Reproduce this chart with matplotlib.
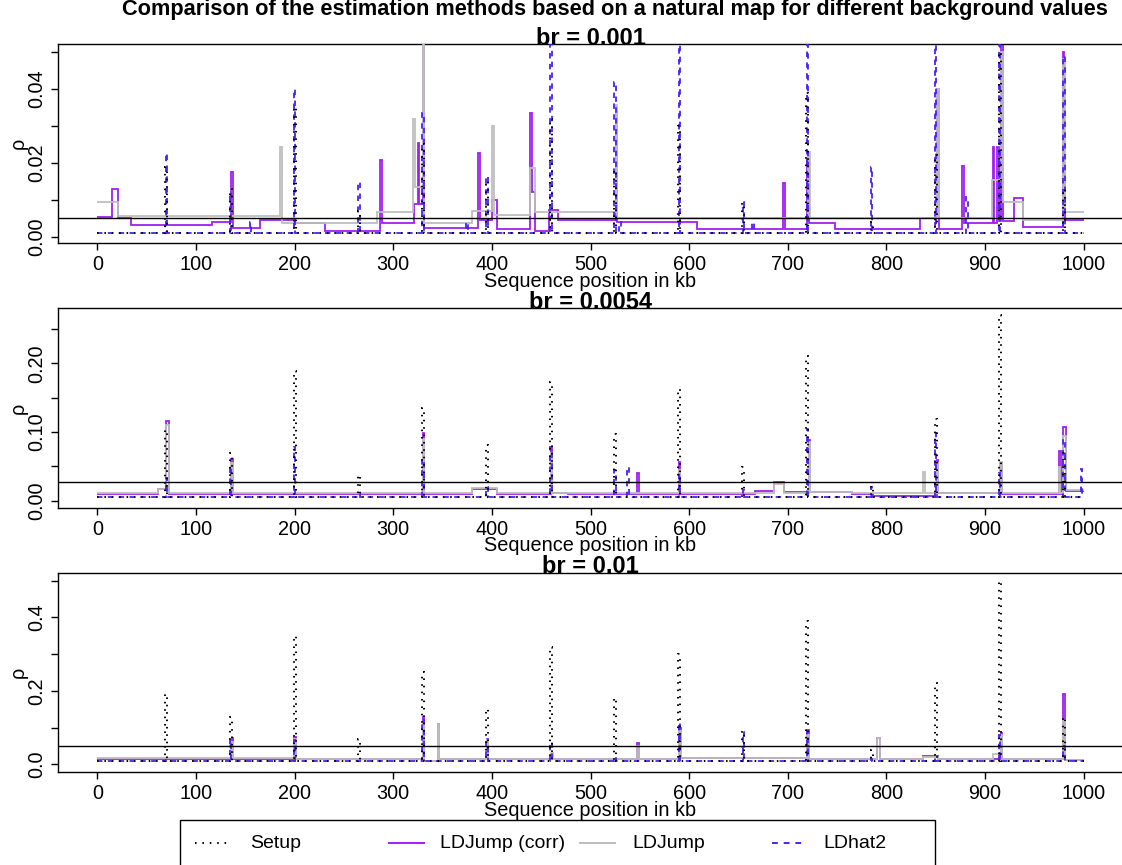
import matplotlib
matplotlib.use("Agg")
import matplotlib.pyplot as plt
from matplotlib.lines import Line2D
from matplotlib.patches import Rectangle

plt.rcParams['font.family'] = ['Liberation Sans', 'DejaVu Sans']

W, H = 1122, 865

# hotspot positions of the simulated map (kb)
hotspots = [70, 135, 200, 265, 330, 395, 460, 525, 590, 655, 720, 785, 850, 915, 980]

panel_titles = ["br = 0.001", "br = 0.0054", "br = 0.01"]
backgrounds = [0.001, 0.0054, 0.01]
thresholds = [0.005, 0.0277, 0.05]

# Setup (true map) hotspot heights
setup_1 = [0.019, 0.013, 0.035, 0.007, 0.025, 0.015, 0.032, 0.018, 0.030, 0.009, 0.039, 0.004, 0.022, 0.050, 0.013]
setup_2 = [0.103, 0.070, 0.189, 0.038, 0.135, 0.081, 0.173, 0.097, 0.162, 0.049, 0.211, 0.022, 0.119, 0.270, 0.070]
setup_3 = [0.19, 0.13, 0.35, 0.07, 0.25, 0.15, 0.32, 0.18, 0.30, 0.09, 0.39, 0.04, 0.22, 0.50, 0.13]

# LDJump (corr): segment starts and values
p1_corr_x = [0, 15.2, 20.9, 34.5, 115.8, 135.7, 137.2, 164.7, 200.3, 230.4, 286.9, 288.4, 320.8, 325.5, 326.5,
             330, 331.5, 386.4, 387.9, 400.4, 405.6, 438.8, 440.3, 444, 458, 467, 525.5, 527, 608.3, 694.8, 697,
             720, 722, 748, 834.5, 851, 853, 877.1, 878.6, 908, 909.5, 912.5, 914, 916.5, 918, 929.5, 939, 979,
             980.5, 981.5]
p1_corr_y = [0.0054, 0.0128, 0.0051, 0.0032, 0.0041, 0.0174, 0.0024, 0.0045, 0.0038, 0.0014, 0.0208, 0.0037, 0.0088,
             0.0253, 0.0088, 0.055, 0.0024, 0.0227, 0.0045, 0.0099, 0.0021, 0.0334, 0.0122, 0.0016, 0.0072, 0.0045,
             0.034, 0.0041, 0.0021, 0.0145, 0.0021, 0.021, 0.0038, 0.0022, 0.0051, 0.040, 0.0021, 0.0192, 0.0037,
             0.0243, 0.0037, 0.0243, 0.0043, 0.055, 0.0043, 0.0106, 0.0025, 0.050, 0.0169, 0.0045]

p2_corr_x = [0, 61.7, 69.5, 72.5, 135.5, 137, 330, 331.5, 379.6, 405.6, 459.5, 461, 477, 547, 549, 589.5, 591,
             667, 686, 696, 721.5, 723, 765, 786, 851, 852.5, 915.5, 917, 975.5, 977, 979.5, 982]
p2_corr_y = [0.0097, 0.0166, 0.1165, 0.0103, 0.0611, 0.0103, 0.0981, 0.0103, 0.0166, 0.0103, 0.0779, 0.0119,
             0.0103, 0.0398, 0.0103, 0.0558, 0.0103, 0.0144, 0.0277, 0.012, 0.088, 0.0129, 0.0091, 0.0075, 0.0593,
             0.0118, 0.055, 0.0103, 0.072, 0.0103, 0.1078, 0.0137]

p3_corr_x = [0, 68, 136, 137.5, 199.5, 201, 330, 331.5, 345, 346.5, 395, 396.5, 547, 549, 590, 591.5, 720, 721.5,
             791, 793.5, 837, 852, 916, 917.5, 979.5, 981]
p3_corr_y = [0.0136, 0.0153, 0.071, 0.0153, 0.073, 0.0136, 0.128, 0.010, 0.110, 0.0136, 0.068, 0.0136, 0.058,
             0.014, 0.100, 0.018, 0.094, 0.014, 0.071, 0.0146, 0.023, 0.0146, 0.085, 0.0136, 0.191, 0.0123]

# LDJump: segment starts and values
p1_ldj_x = [0, 20.9, 185.5, 187, 283, 320.5, 322, 330, 331.5, 379.6, 400.4, 401.9, 438.8, 444, 525.5, 527,
            720.5, 722.5, 851.5, 853, 907, 916.5, 918, 939, 979.5, 981]
p1_ldj_y = [0.0094, 0.0057, 0.0243, 0.0037, 0.0066, 0.0319, 0.0135, 0.0521, 0.0038, 0.0070, 0.0300, 0.0058,
            0.0185, 0.0066, 0.0356, 0.0050, 0.0230, 0.0050, 0.040, 0.0050, 0.0153, 0.050, 0.0094, 0.0045, 0.048,
            0.0068]

p2_ldj_x = [0, 61.7, 69.5, 72.5, 135.5, 137, 330, 331.5, 379.6, 405.6, 459.5, 461, 589.5, 591, 686, 696, 721.5,
            723, 765, 837, 839, 851, 852.5, 915.5, 917, 975, 976.5, 979.5, 982]
p2_ldj_y = [0.0118, 0.0166, 0.110, 0.0118, 0.055, 0.0118, 0.090, 0.0118, 0.018, 0.0118, 0.070, 0.0118, 0.045,
            0.0118, 0.0239, 0.0118, 0.085, 0.0129, 0.0118, 0.0422, 0.0118, 0.055, 0.0118, 0.0558, 0.0118, 0.0495,
            0.0118, 0.0944, 0.016]

p3_ldj_x = [0, 68, 136, 137.5, 199.5, 201, 330, 331.5, 345, 346.5, 395, 396.5, 460, 461.5, 547, 549, 590, 591.5,
            720, 721.5, 791, 793.5, 837, 852, 908, 916, 917.5, 979.5, 981]
p3_ldj_y = [0.018, 0.016, 0.060, 0.016, 0.070, 0.0136, 0.116, 0.010, 0.110, 0.0136, 0.066, 0.0136, 0.030, 0.0136,
            0.050, 0.014, 0.090, 0.018, 0.080, 0.014, 0.071, 0.014, 0.019, 0.014, 0.0292, 0.080, 0.0136, 0.120,
            0.0123]

# LDhat2: baseline plus peaks
p1_hat_base = 0.0011
p1_hat_pos = [70, 135, 155, 200, 265, 330, 375, 395, 460, 525, 530, 590, 655, 665, 720, 785, 850, 882, 915, 980]
p1_hat_val = [0.0226, 0.012, 0.004, 0.040, 0.0149, 0.0336, 0.004, 0.0163, 0.055, 0.042, 0.004, 0.055, 0.0095,
              0.004, 0.055, 0.019, 0.055, 0.0108, 0.055, 0.049]
p2_hat_base = 0.0049
p2_hat_pos = [70, 135, 200, 265, 330, 395, 460, 525, 538, 590, 655, 720, 785, 850, 915, 980, 998]
p2_hat_val = [0.033, 0.050, 0.078, 0.010, 0.060, 0.020, 0.078, 0.045, 0.0495, 0.040, 0.015, 0.104, 0.020, 0.098,
              0.040, 0.090, 0.0457]
p3_hat_base = 0.0089
p3_hat_pos = [70, 135, 200, 330, 395, 460, 525, 590, 655, 720, 785, 850, 915, 980]
p3_hat_val = [0.012, 0.070, 0.065, 0.120, 0.060, 0.0617, 0.020, 0.116, 0.088, 0.090, 0.015, 0.020, 0.080, 0.050]

# axis settings per panel
ylims = [(-0.0018, 0.0521), (-0.0102, 0.2801), (-0.021, 0.5214)]
yticks = [[0, 0.01, 0.02, 0.03, 0.04, 0.05], [0, 0.05, 0.10, 0.15, 0.20, 0.25], [0, 0.1, 0.2, 0.3, 0.4, 0.5]]
ytick_labels = [["0.00", "", "0.02", "", "0.04", ""], ["0.00", "", "0.10", "", "0.20", ""],
                ["0.0", "", "0.2", "", "0.4", ""]]
panel_px = [(44.3, 243.3), (308.3, 507.7), (572.7, 772.0)]  # top, bottom in pixels

PURPLE = '#A020F0'
GREY = '#BEBEBE'
BLUE = '#4B22F2'
FS = 14.3


def peak_steps(base, pos, vals, width=1.5):
    edges, heights = [0], []
    for p, v in zip(pos, vals):
        edges += [p - width / 2, p + width / 2]
        heights += [base, v]
    edges.append(1000)
    heights.append(base)
    return edges, heights


fig = plt.figure(figsize=(W / 100, H / 100), dpi=100)

corr = [(p1_corr_x, p1_corr_y), (p2_corr_x, p2_corr_y), (p3_corr_x, p3_corr_y)]
ldj = [(p1_ldj_x, p1_ldj_y), (p2_ldj_x, p2_ldj_y), (p3_ldj_x, p3_ldj_y)]
hat = [(p1_hat_base, p1_hat_pos, p1_hat_val), (p2_hat_base, p2_hat_pos, p2_hat_val),
       (p3_hat_base, p3_hat_pos, p3_hat_val)]
setups = [setup_1, setup_2, setup_3]

for i in range(3):
    top, bot = panel_px[i]
    ax = fig.add_axes([58 / W, 1 - bot / H, (1123 - 58) / W, (bot - top) / H])
    ax.set_xlim(-40, 1040)
    ax.set_ylim(*ylims[i])

    cx, cy = corr[i]
    ax.stairs(cy, cx + [1000], baseline=None, color=PURPLE, lw=1.3, zorder=2)
    gx, gy = ldj[i]
    ax.stairs(gy, gx + [1000], baseline=None, color=GREY, lw=1.3, zorder=3)
    he, hv = peak_steps(*hat[i])
    ax.stairs(hv, he, baseline=None, color=BLUE, lw=1.3, linestyle=(0, (3, 3)), zorder=4)
    se, sv = peak_steps(backgrounds[i], hotspots, setups[i], width=2)
    ax.stairs(sv, se, baseline=None, color='black', lw=1.4, linestyle=(0, (0.8, 3)), zorder=5)
    ax.axhline(thresholds[i], color='black', lw=1.0, zorder=6)

    ax.set_xticks(range(0, 1001, 100))
    ax.set_xticklabels([str(v) for v in range(0, 1001, 100)], fontsize=FS)
    ax.set_yticks(yticks[i])
    ax.set_yticklabels(ytick_labels[i], fontsize=FS, rotation=90, va='center')
    ax.tick_params(axis='x', length=5.2, width=1.0, pad=3.5)
    ax.tick_params(axis='y', length=5.2, width=1.0, pad=3.2)
    for s in ax.spines.values():
        s.set_linewidth(1.0)

    ax.annotate(panel_titles[i], xy=(0.5, 1), xycoords='axes fraction', xytext=(0, 4.5),
                textcoords='offset points', ha='center', va='center', fontsize=17, fontweight='bold')
    ax.annotate("Sequence position in kb", xy=(0.5, 0), xycoords='axes fraction', xytext=(0, -27.5),
                textcoords='offset points', ha='center', va='center', fontsize=FS)
    ax.annotate("ρ", xy=(0, 0.5), xycoords='axes fraction', xytext=(-28.5, 0),
                textcoords='offset points', ha='center', va='center', fontsize=FS, rotation=90)

fig.text(615 / W, 1 - 10 / H, "Comparison of the estimation methods based on a natural map for different background values",
         ha='center', va='center', fontsize=15.7, fontweight='bold')

# legend box at the bottom
fig.add_artist(Rectangle((180 / W, 1 - 880 / H), (935 - 180) / W, 60 / H, transform=fig.transFigure,
                         fill=False, edgecolor='black', lw=1.0))
legend_items = [("Setup", 'black', (0, (0.8, 3)), 195, 250),
                ("LDJump (corr)", PURPLE, '-', 389, 440),
                ("LDJump", GREY, '-', 580, 632),
                ("LDhat2", BLUE, (0, (3, 3)), 772, 823)]
ly = 1 - 843 / H
for label, col, ls, x0, tx in legend_items:
    fig.add_artist(Line2D([x0 / W, (x0 + 35) / W], [ly, ly], transform=fig.transFigure,
                          color=col, lw=1.4, linestyle=ls))
    fig.text(tx / W, ly, label, ha='left', va='center', fontsize=14)

fig.savefig("out.png", dpi=100)
